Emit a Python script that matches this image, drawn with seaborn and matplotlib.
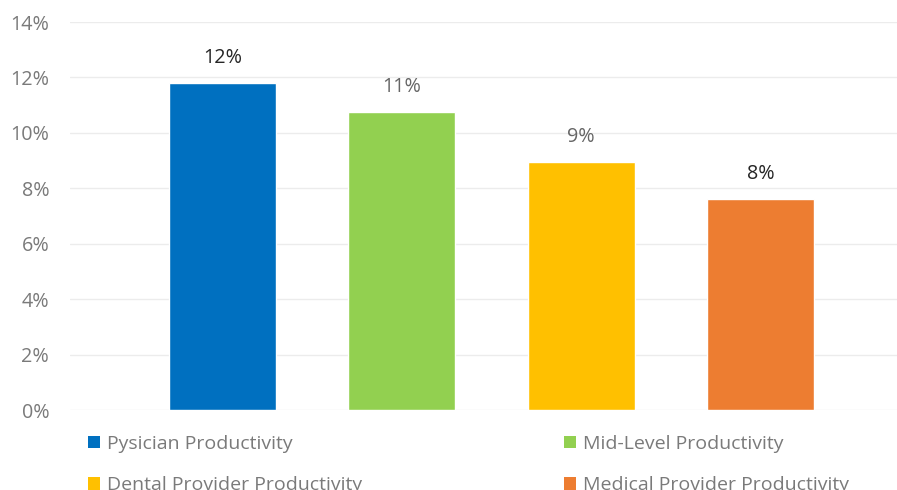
import matplotlib
matplotlib.use("Agg")
import matplotlib.pyplot as plt
import seaborn as sns
import pandas as pd
from matplotlib.patches import Patch

categories = ["Pysician Productivity", "Mid-Level Productivity",
              "Dental Provider Productivity", "Medical Provider Productivity"]
values = [11.8, 10.75, 8.95, 7.62]
labels = ["12%", "11%", "9%", "8%"]
label_colors = ["#262626", "#666666", "#666666", "#262626"]
colors = ["#0070C0", "#92D050", "#FFC000", "#ED7D31"]
yticks = [0, 2, 4, 6, 8, 10, 12, 14]

sns.set_theme(style="white")
plt.rcParams['font.family'] = ['Open Sans', 'DejaVu Sans']

df = pd.DataFrame({"cat": categories, "val": values})

fig = plt.figure(figsize=(8.97, 4.90), dpi=100)
ax = fig.add_axes([70/897, 1 - 410/490, 1 - 70/897, (410 - 22)/490])

sns.barplot(data=df, x="cat", y="val", hue="cat", palette=colors,
            dodge=False, width=0.596, legend=False, ax=ax, saturation=1)

ax.set_xlim(-0.85, 3.76)
ax.set_ylim(0, 14)
ax.set_yticks(yticks)
ax.set_yticklabels([f"{t}%" for t in yticks], color="#7a7a7a", fontsize=14.2)
ax.tick_params(axis="y", length=0, pad=15)
ax.set_xticks([])
ax.set_xlabel("")
ax.set_ylabel("")
ax.grid(axis="y", color="#ececec", linewidth=1)
ax.set_axisbelow(True)
for s in ax.spines.values():
    s.set_visible(False)

for i, (v, lab, c) in enumerate(zip(values, labels, label_colors)):
    ax.annotate(lab, (i, v), xytext=(0, 11), textcoords="offset points",
                ha="center", va="bottom", fontsize=14.2, color=c)

handles = [Patch(facecolor=c, edgecolor="none") for c in colors]
common = dict(frameon=False, fontsize=14, handlelength=0.6, handleheight=0.6,
              handletextpad=0.38, labelspacing=1.2, loc="upper left",
              labelcolor="#7a7a7a", borderaxespad=0, borderpad=0)
leg1 = fig.legend([handles[0], handles[2]], [categories[0], categories[2]],
                  bbox_to_anchor=(88/897, 1 - 435/490), **common)
leg2 = fig.legend([handles[1], handles[3]], [categories[1], categories[3]],
                  bbox_to_anchor=(564/897, 1 - 435/490), **common)

fig.savefig("out.png", dpi=100)
